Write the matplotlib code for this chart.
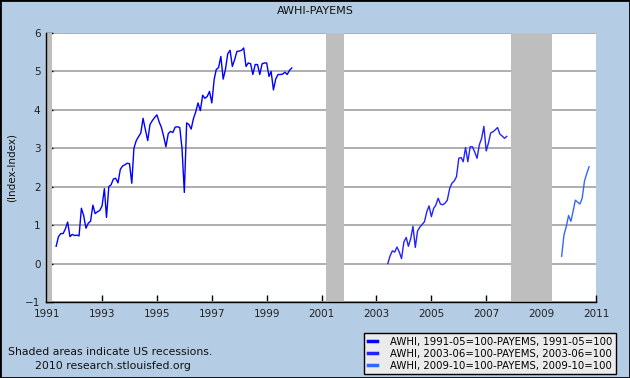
import matplotlib
matplotlib.use("Agg")
import matplotlib.pyplot as plt
import matplotlib.dates as mdates
from matplotlib.patches import Rectangle
import pandas as pd
from datetime import datetime

# ---------------- data ----------------
title = "AWHI-PAYEMS"
y_label = "(Index-Index)"

s1_start = "1991-05-01"
s1_values = [0.45, 0.70, 0.78, 0.78, 0.90, 1.08, 0.70, 0.76, 0.73, 0.74,
             0.72, 1.44, 1.25, 0.92, 1.05, 1.10, 1.52, 1.30, 1.35, 1.38,
             1.50, 1.95, 1.20, 2.00, 2.05, 2.20, 2.22, 2.10, 2.45, 2.54,
             2.57, 2.61, 2.60, 2.09, 3.00, 3.20, 3.30, 3.40, 3.78, 3.48,
             3.20, 3.62, 3.72, 3.80, 3.87, 3.68, 3.55, 3.31, 3.04, 3.38,
             3.44, 3.41, 3.55, 3.56, 3.54, 3.00, 1.85, 3.66, 3.62, 3.50,
             3.77, 3.95, 4.18, 3.98, 4.38, 4.30, 4.35, 4.48, 4.18, 4.79,
             5.05, 5.10, 5.39, 4.80, 5.05, 5.46, 5.55, 5.13, 5.31, 5.52,
             5.53, 5.55, 5.61, 5.13, 5.22, 5.20, 4.92, 5.18, 5.18, 4.92,
             5.20, 5.22, 5.22, 4.87, 5.00, 4.52, 4.80, 4.92, 4.92, 4.93,
             4.98, 4.92, 5.03, 5.09]

s2_start = "2003-06-01"
s2_values = [0.00, 0.20, 0.33, 0.30, 0.43, 0.30, 0.13, 0.56, 0.68, 0.45,
             0.65, 0.97, 0.42, 0.85, 0.95, 1.02, 1.09, 1.35, 1.50, 1.22,
             1.44, 1.52, 1.70, 1.55, 1.53, 1.57, 1.65, 1.95, 2.09, 2.15,
             2.26, 2.74, 2.76, 2.65, 3.02, 2.65, 3.04, 3.04, 2.90, 2.74,
             3.09, 3.26, 3.57, 2.93, 3.15, 3.40, 3.43, 3.48, 3.54, 3.37,
             3.32, 3.26, 3.31]

s3_start = "2009-10-01"
s3_values = [0.19, 0.75, 0.96, 1.25, 1.10, 1.35, 1.65, 1.60, 1.55, 1.70,
             2.15, 2.35, 2.52]

series_labels = ["AWHI, 1991-05=100-PAYEMS, 1991-05=100",
                 "AWHI, 2003-06=100-PAYEMS, 2003-06=100",
                 "AWHI, 2009-10=100-PAYEMS, 2009-10=100"]
series_colors = ["#0000FF", "#2222FF", "#3366FF"]

recessions = [("1990-07-01", "1991-03-01"),
              ("2001-03-01", "2001-11-01"),
              ("2007-12-01", "2009-06-01")]

x_tick_years = [1991, 1993, 1995, 1997, 1999, 2001, 2003, 2005, 2007, 2009, 2011]
y_ticks = [-1, 0, 1, 2, 3, 4, 5, 6]

note1 = "Shaded areas indicate US recessions."
note2 = "2010 research.stlouisfed.org"

# ---------------- figure ----------------
bg = "#B4CDE4"
fig = plt.figure(figsize=(6.3, 3.78), dpi=100, facecolor=bg)
ax = fig.add_axes([46 / 630, 1 - 302 / 378, 550 / 630, 269 / 378])
ax.set_facecolor("white")

for (a, b) in recessions:
    ax.axvspan(pd.Timestamp(a), pd.Timestamp(b), color="#BEBEBE", lw=0, zorder=1)

for start, vals, lab, col in zip([s1_start, s2_start, s3_start],
                                 [s1_values, s2_values, s3_values],
                                 series_labels, series_colors):
    dates = pd.date_range(start, periods=len(vals), freq="MS")
    ax.plot(dates, vals, color=col, lw=1.0, label=lab, zorder=3)

ax.set_xlim(datetime(1990, 12, 17), datetime(2011, 1, 1))
ax.set_ylim(-1, 6)
ax.set_yticks(y_ticks)
ax.set_xticks([datetime(y, 1, 1) for y in x_tick_years])
ax.set_xticklabels([str(y) for y in x_tick_years])
ax.yaxis.grid(True, color="#A8A8A8", lw=1.3, zorder=0.5)
ax.set_axisbelow(True)

for s in ["top", "right"]:
    ax.spines[s].set_visible(False)
for s in ["left", "bottom"]:
    ax.spines[s].set_color("black")
    ax.spines[s].set_linewidth(1.0)
    ax.spines[s].set_zorder(4)

ax.tick_params(axis="both", direction="in", length=5, width=1, colors="black",
               labelsize=7.5, labelcolor="#222222")
ax.tick_params(axis="x", pad=5)
ax.tick_params(axis="y", pad=4)

ax.set_ylabel(y_label, fontsize=7.5, color="#111111", labelpad=6)
fig.text(0.5, 1 - 11 / 378, title, ha="center", va="center", fontsize=8, color="#111111")

fig.text(8 / 630, 1 - 352 / 378, note1, ha="left", va="center", fontsize=7.8, color="#111111")
fig.text(35 / 630, 1 - 366 / 378, note2, ha="left", va="center", fontsize=7.8, color="#111111")

leg = ax.legend(loc="upper left", bbox_to_anchor=(364 / 630, 1 - 333 / 378),
                bbox_transform=fig.transFigure, fontsize=7.3, frameon=True,
                fancybox=False, framealpha=1, facecolor="#EBEBEB", edgecolor="black",
                handlelength=0.9, handletextpad=1.3, borderpad=0.35,
                labelspacing=0.2, borderaxespad=0)
leg.get_frame().set_linewidth(1.0)
for h in leg.get_lines():
    h.set_linewidth(2.5)

fig.patches.append(Rectangle((0, 0), 1, 1, transform=fig.transFigure, fill=False,
                             edgecolor="black", lw=2))

fig.savefig("out.png", dpi=100, facecolor=bg)
